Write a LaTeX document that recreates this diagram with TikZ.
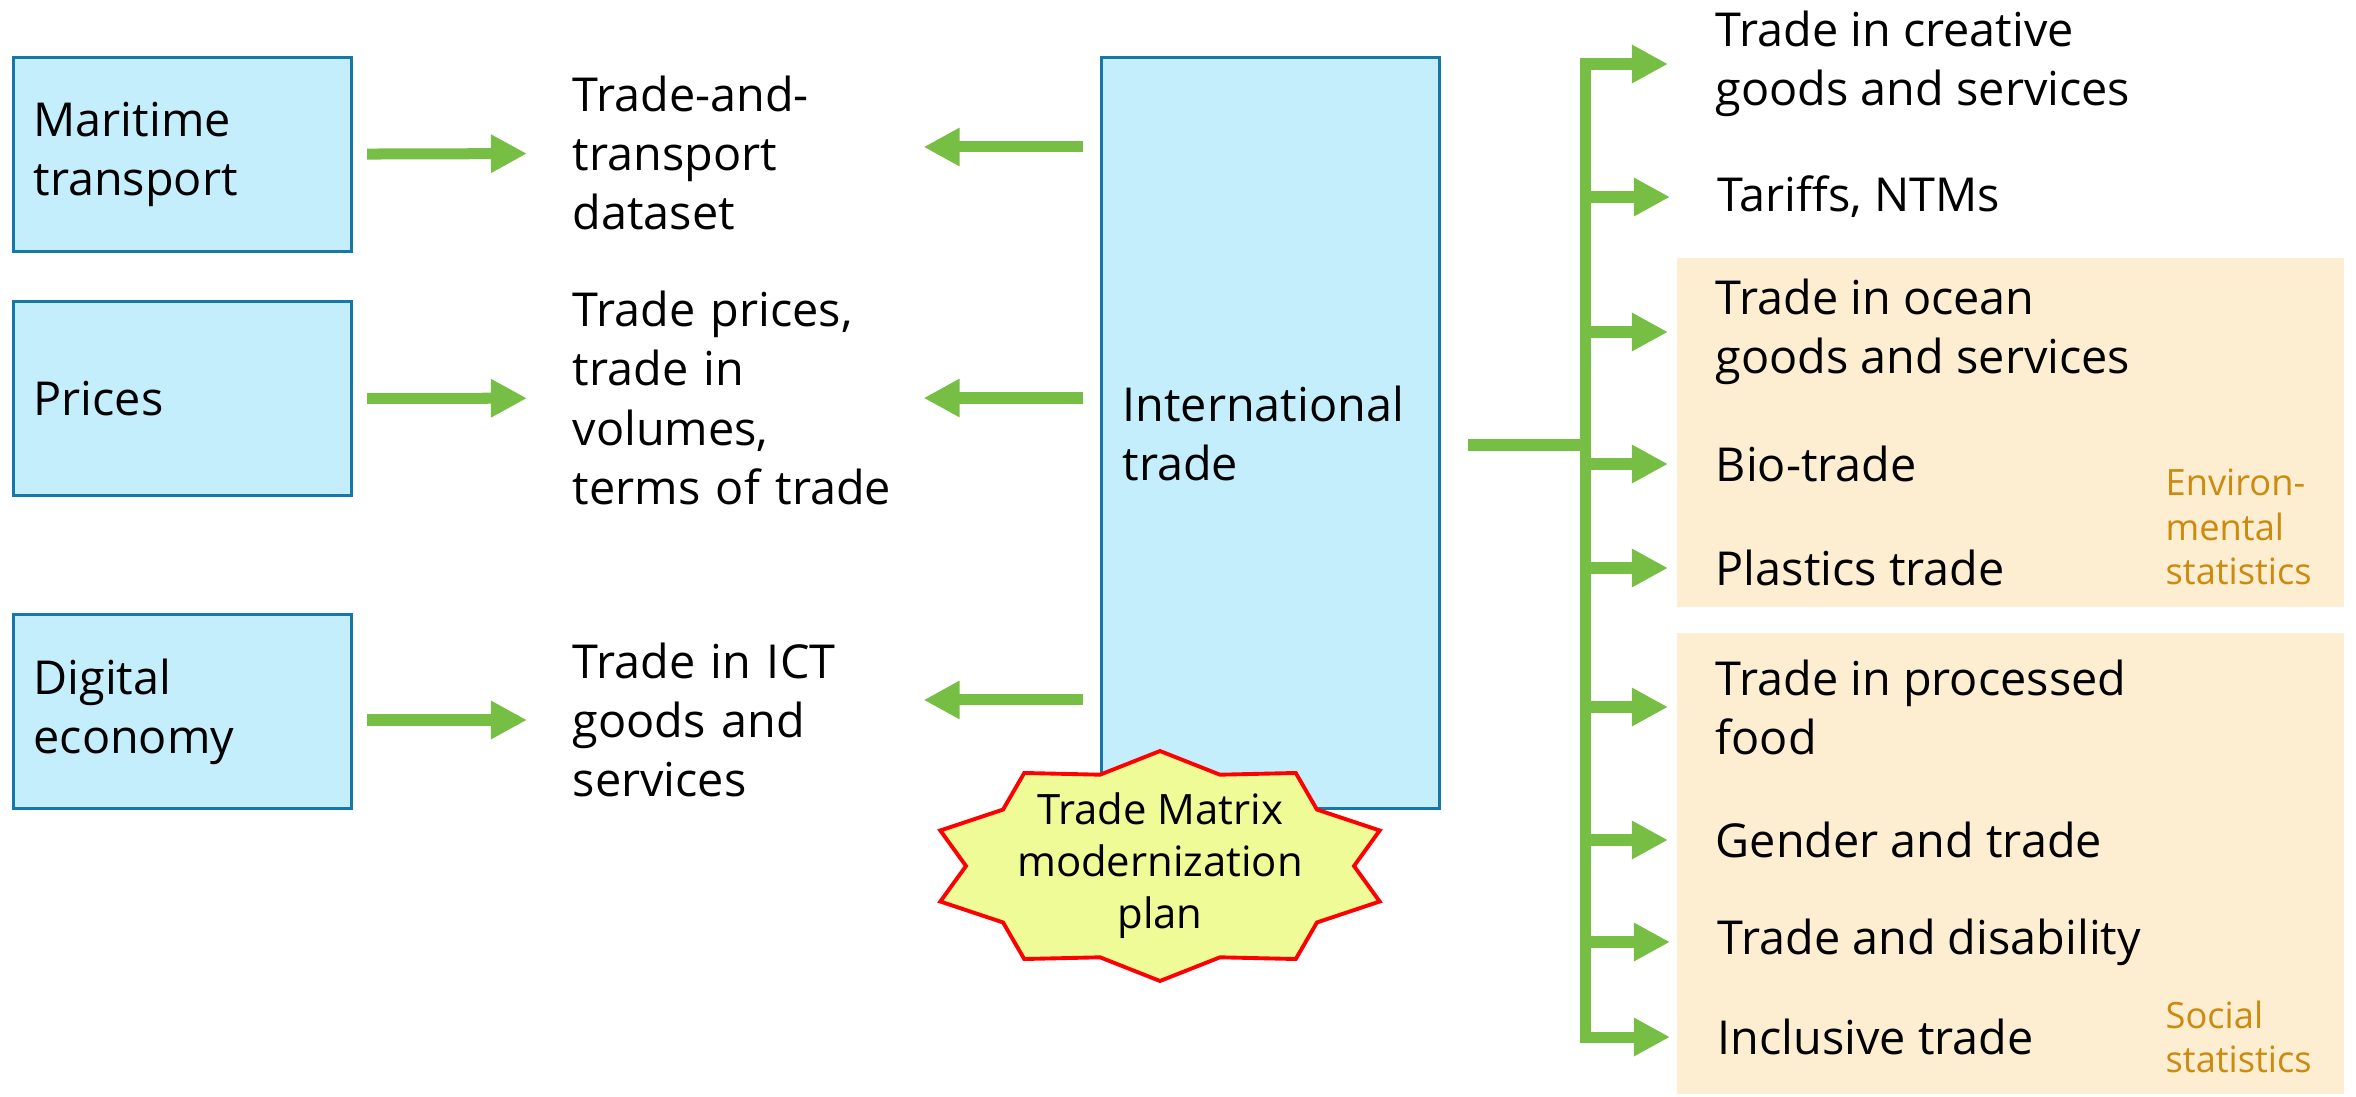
\documentclass[tikz,border=0pt]{standalone}
\usepackage{fontspec}
\setmainfont{Open Sans}
\usetikzlibrary{arrows.meta}
\definecolor{boxfill}{HTML}{C5EEFD}
\definecolor{boxline}{HTML}{1478A8}
\definecolor{arrowgreen}{HTML}{76BF44}
\definecolor{statsfill}{HTML}{FDEDD1}
\definecolor{statstext}{HTML}{CC8A0E}
\definecolor{burstfill}{HTML}{EFFB97}

\begin{document}
\begin{tikzpicture}
      [ x=0.01cm, y=-0.01cm
      , font=\fontsize{13.3}{16.8}\selectfont
      , source/.style={draw=boxline, fill=boxfill, line width=0.85pt, anchor=north west, align=left, text width=2.98cm, inner xsep=0.2cm, minimum height=1.94cm}
      , item/.style={anchor=west, align=left, inner sep=0pt}
      , derived/.style={item, text width=3.3cm}
      , stats/.style={item, statstext, font=\fontsize{10.3}{12.6}\selectfont}
      , feed/.style={arrowgreen, line width=0.11cm, -{Triangle[length=0.36cm, width=0.36cm]}}
      , trunk/.style={arrowgreen, line width=0.11cm}
      , burst/.style={draw=red, fill=burstfill, line width=1.1pt, line join=miter}
      ]
    \useasboundingbox (0,0) rectangle (2356,1097);

    \node[source] (maritime) at (12,56) {Maritime\\transport};
    \node[source] (prices) at (12,300) {Prices};
    \node[source] (digital) at (12,613) {Digital\\economy};

    \node[derived] (transportData) at (572,153) {Trade-and-\\transport\\dataset};
    \node[derived] (priceData) at (572,398) {Trade prices,\\trade in\\volumes,\\terms of trade};
    \node[derived] (ictData) at (572,720) {Trade in ICT\\goods and\\services};

    \node[source, text width=2.96cm, inner xsep=0.21cm, minimum height=7.51cm] (intl) at (1100,56) {International\\trade};

    \coordinate (plan) at (1160,866);
    \draw[burst, shift={(plan)}] (90:231 and 115)
      \foreach \i in {1,...,19} { -- ({90+18*\i}:{231-37*mod(\i,2)} and {115-19*mod(\i,2)}) } -- cycle;
    \node[align=center, font=\fontsize{11.9}{14.8}\selectfont] (planText) at (plan) {Trade Matrix\\modernization\\plan};

    \fill[statsfill] (1677,258) rectangle (2344,607);
    \fill[statsfill] (1677,633) rectangle (2344,1094);

    \node[item] (creative) at (1715,64) {Trade in creative\\goods and services};
    \node[item] (tariffs) at (1717,197) {Tariffs, NTMs};
    \node[item] (ocean) at (1715,332) {Trade in ocean\\goods and services};
    \node[item] (bio) at (1715,464) {Bio-trade};
    \node[item] (plastics) at (1715,568) {Plastics trade};
    \node[item] (processed) at (1715,707) {Trade in processed\\food};
    \node[item] (gender) at (1715,840) {Gender and trade};
    \node[item] (disability) at (1717,942) {Trade and disability};
    \node[item] (inclusive) at (1717,1037) {Inclusive trade};
    \node[stats] (envStats) at (2165,527) {Environ-\\mental\\statistics};
    \node[stats] (socStats) at (2165,1037) {Social\\statistics};

    \path[feed, shorten <=0.14cm, shorten >=0.45cm]
    (maritime) edge (transportData)
    (prices) edge (priceData)
    (digital.east |- ictData) edge (ictData);

    \path[feed, shorten <=0.17cm, shorten >=0.2cm]
    ([yshift=0.06cm]intl.west |- transportData.east) edge ([yshift=0.06cm]transportData.east)
    (intl.west |- priceData.east) edge (priceData.east)
    ([yshift=0.2cm]intl.west |- ictData.east) edge ([yshift=0.2cm]ictData.east);

    \coordinate (hub) at (1585,445);
    \draw[trunk, shorten <=0.27cm] (intl.east |- hub) -- (hub);
    \draw[trunk, line cap=rect] (creative.west -| hub) -- (inclusive.west -| hub);

    \path[feed, shorten >=0.47cm]
    \foreach \n in {creative,tariffs,ocean,bio,plastics,processed,gender,disability,inclusive} { (\n.west -| hub) edge (\n.west) };

  \end{tikzpicture}
\end{document}
